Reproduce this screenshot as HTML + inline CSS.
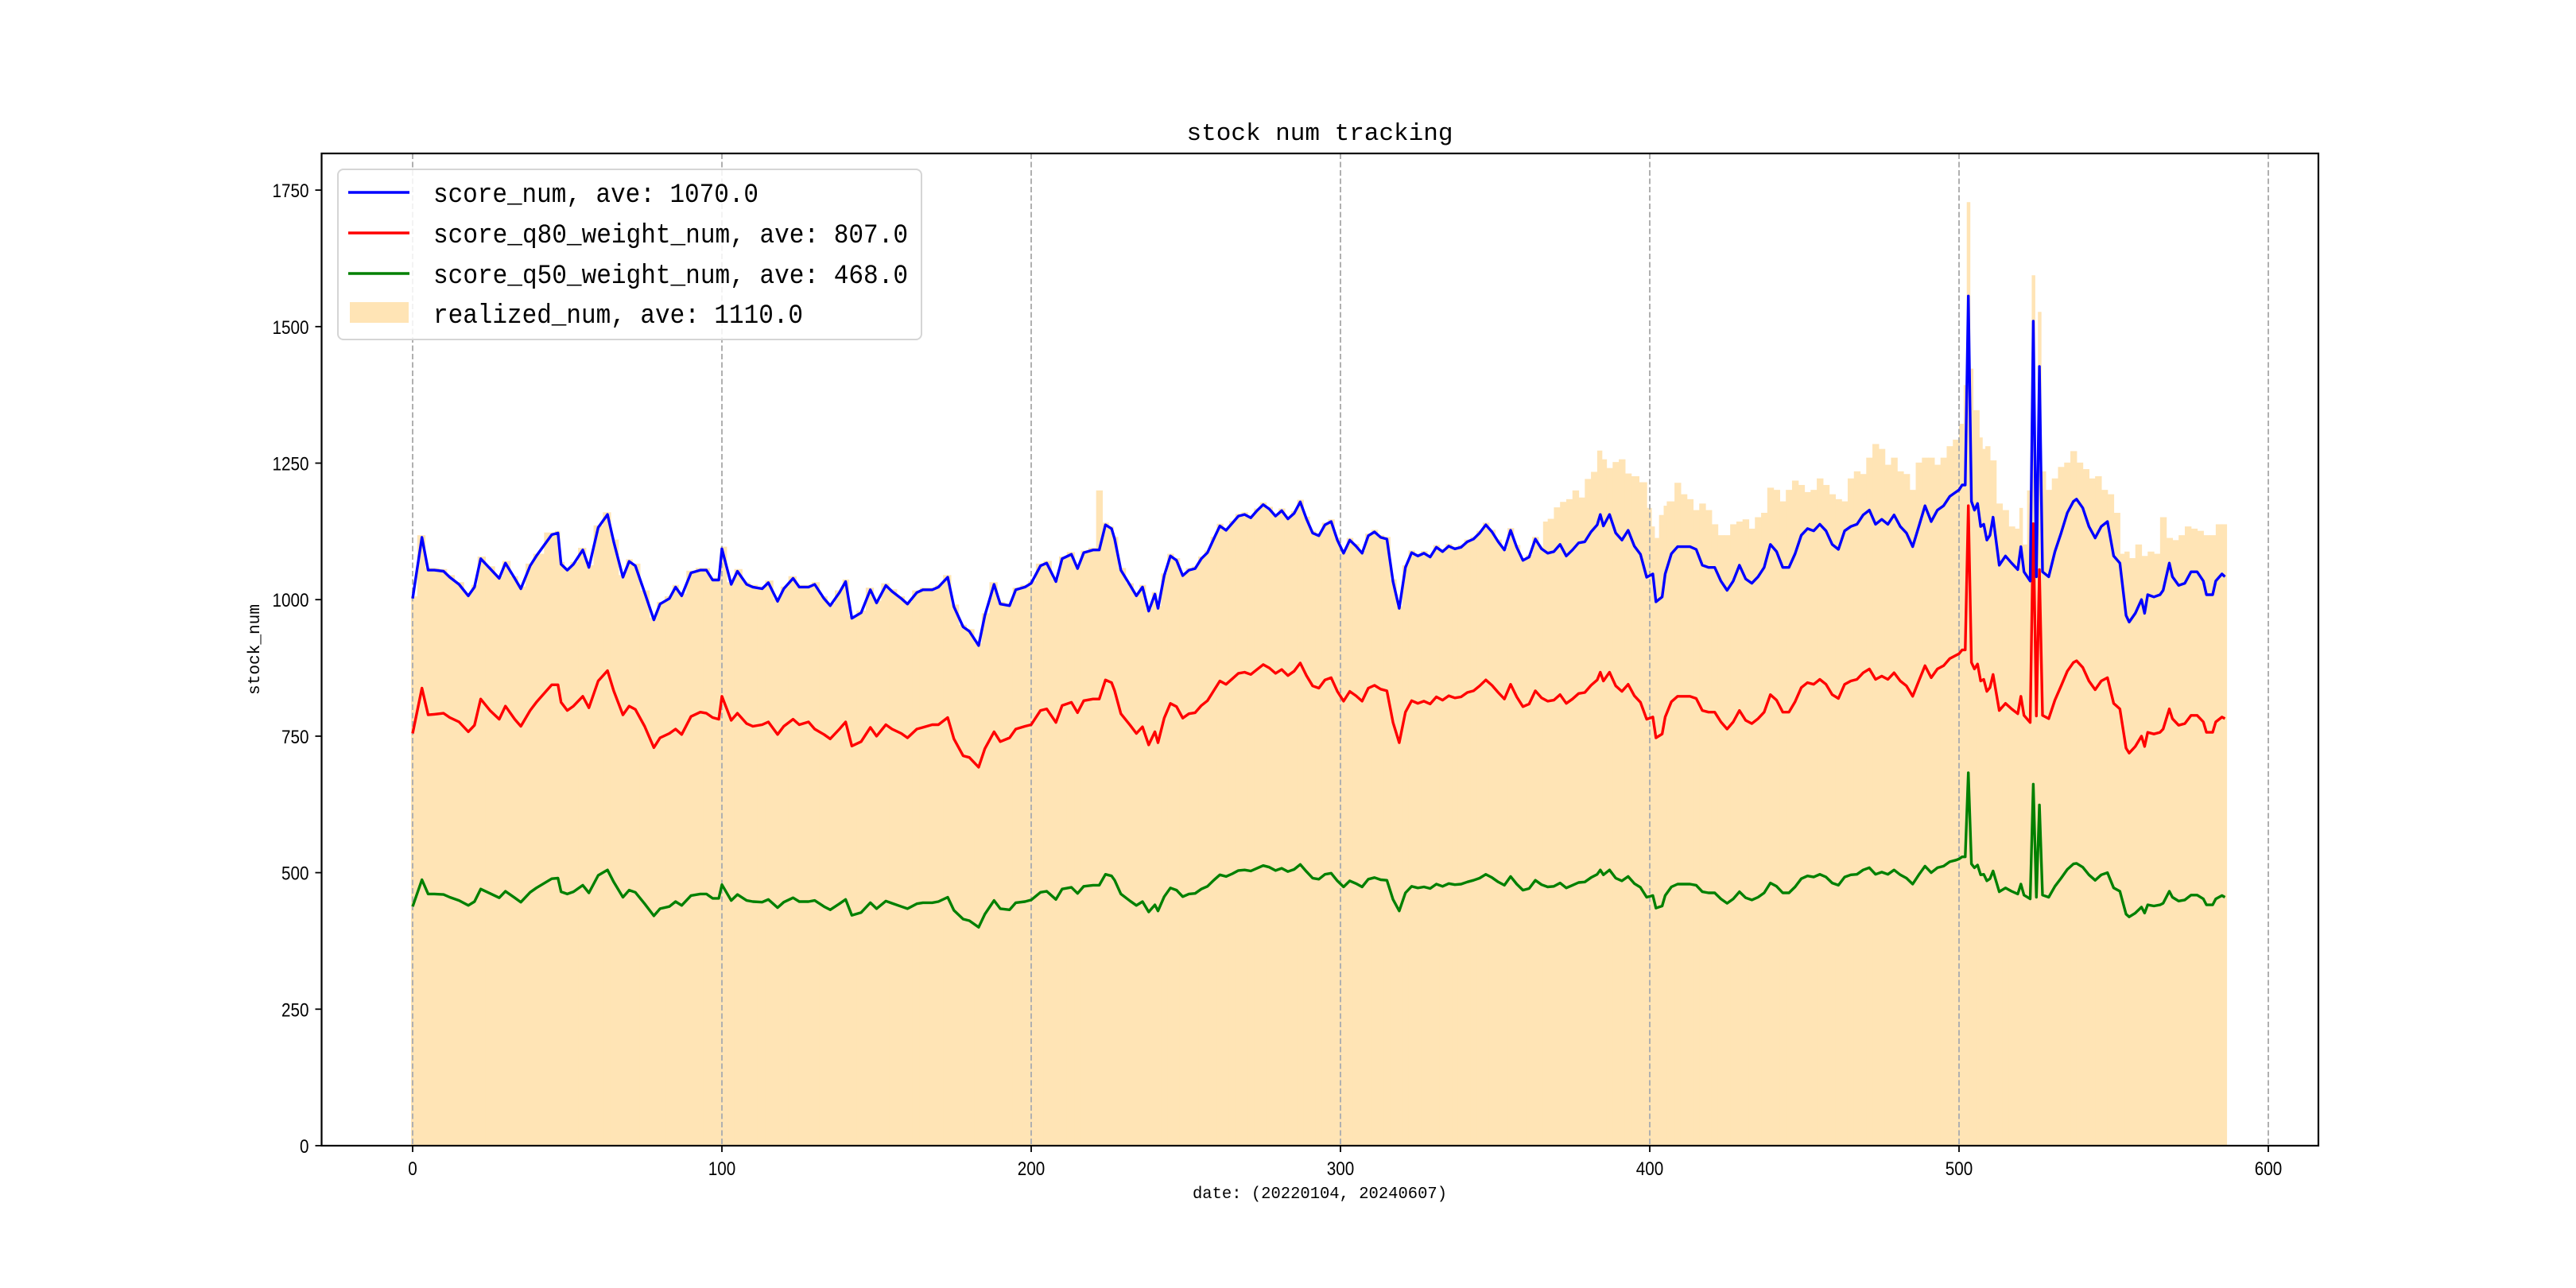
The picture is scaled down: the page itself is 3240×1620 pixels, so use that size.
<!DOCTYPE html>
<html><head><meta charset="utf-8"><style>
html,body{margin:0;padding:0;background:#fff;width:3240px;height:1620px;overflow:hidden}
</style></head><body>
<svg id="chart" width="3240" height="1620" xmlns="http://www.w3.org/2000/svg" style="font-family:'Liberation Sans',sans-serif">
<rect width="3240" height="1620" fill="#fff"/>
<g id="bars"></g>
<g id="grid"></g>
<g id="lines"></g>
<rect x="404.5" y="193" width="2511.5" height="1248" fill="none" stroke="#000" stroke-width="2.2"/>
<g id="ticks"></g>
<text x="1660" y="176" text-anchor="middle" font-family="Liberation Mono, monospace" font-size="31" textLength="335" lengthAdjust="spacingAndGlyphs">stock num tracking</text>
<text x="1660" y="1507" text-anchor="middle" font-family="Liberation Mono, monospace" font-size="21" textLength="320" lengthAdjust="spacingAndGlyphs">date: (20220104, 20240607)</text>
<text transform="translate(326,817) rotate(-90)" text-anchor="middle" font-family="Liberation Mono, monospace" font-size="21" textLength="114" lengthAdjust="spacingAndGlyphs">stock_num</text>
<g>
<rect x="425" y="213" width="734" height="214" rx="7" fill="#fff" fill-opacity="0.85" stroke="#d5d5d5" stroke-width="2"/>
<line x1="438" y1="242" x2="515" y2="242" stroke="#0000ff" stroke-width="3.5"/>
<text x="545" y="254" font-family="Liberation Mono, monospace" font-size="34" textLength="409" lengthAdjust="spacingAndGlyphs">score_num, ave: 1070.0</text>
<line x1="438" y1="293" x2="515" y2="293" stroke="#ff0000" stroke-width="3.5"/>
<text x="545" y="305" font-family="Liberation Mono, monospace" font-size="34" textLength="597" lengthAdjust="spacingAndGlyphs">score_q80_weight_num, ave: 807.0</text>
<line x1="438" y1="344" x2="515" y2="344" stroke="#008000" stroke-width="3.5"/>
<text x="545" y="356" font-family="Liberation Mono, monospace" font-size="34" textLength="597" lengthAdjust="spacingAndGlyphs">score_q50_weight_num, ave: 468.0</text>
<rect x="440" y="380" width="74" height="26" fill="#ffe4b5"/>
<text x="545" y="406" font-family="Liberation Mono, monospace" font-size="34" textLength="465" lengthAdjust="spacingAndGlyphs">realized_num, ave: 1110.0</text>
</g>
</svg>
<script>
const xTicks = [0,100,200,300,400,500,600];
const yTicks = [0,250,500,750,1000,1250,1500,1750];
const lineDays = [0,3,5,7,10,12,15,18,20,22,25,28,30,33,35,38,40,45,47,48,50,52,55,57,60,63,65,68,70,72,75,78,80,83,85,87,90,93,95,97,99,100,103,105,108,110,113,115,118,120,123,125,128,130,133,135,138,140,142,145,148,150,153,155,158,160,163,165,168,170,173,175,178,180,183,185,188,190,193,195,198,200,
203,205,208,210,213,215,217,220,222,224,226,227,229,232,234,236,238,240,241,243,245,247,249,251,253,255,257,259,261,263,265,267,269,271,273,275,277,279,281,283,285,287,289,291,293,295,297,299,301,303,305,307,309,311,313,315,317,319,321,323,325,327,329,331,333,335,337,339,341,343,345,347,349,351,353,355,357,359,361,363,365,367,369,371,373,375,377,379,381,383,384,385,387,389,391,393,395,397,399,
401,402,404,405,407,409,411,413,415,417,419,421,423,425,427,429,431,433,435,437,439,441,443,445,447,449,451,453,455,457,459,461,463,465,467,469,471,473,475,477,479,481,483,485,487,489,491,493,495,497,499,500,501,502,503,504,505,506,507,508,509,510,511,513,515,517,519,520,521,523,524,525,526,527,529,531,533,535,537,538,540,542,544,546,548,550,552,554,555,557,559,560,561,563,565,566,568,569,571,573,575,577,579,580,582,583,585,586];
const scoreNum = [1002,1114,1054,1054,1052,1041,1028,1007,1023,1075,1057,1039,1067,1039,1020,1062,1080,1119,1122,1065,1054,1065,1091,1059,1132,1156,1106,1041,1070,1062,1013,963,992,1002,1023,1007,1049,1054,1054,1036,1036,1093,1028,1052,1028,1023,1020,1031,997,1020,1039,1023,1023,1028,1002,989,1013,1033,966,976,1018,994,1026,1015,1002,992,1013,1018,1018,1023,1041,987,950,942,916,971,1028,992,989,1018,1023,1030,
1062,1067,1033,1075,1083,1057,1086,1091,1091,1137,1130,1111,1054,1026,1007,1023,979,1010,984,1044,1080,1072,1044,1054,1057,1075,1086,1111,1135,1127,1140,1153,1156,1150,1163,1174,1166,1153,1163,1148,1158,1179,1148,1122,1117,1137,1143,1109,1085,1109,1098,1085,1117,1124,1114,1111,1033,984,1059,1086,1080,1085,1078,1096,1088,1098,1093,1096,1106,1111,1122,1137,1124,1106,1091,1127,1096,1072,1078,1111,1093,1085,1088,1101,1080,1091,1104,1106,1124,1137,1156,1135,1156,1122,1109,1127,1098,1083,1041,
1047,996,1005,1047,1084,1097,1097,1097,1092,1063,1059,1059,1034,1017,1034,1063,1038,1030,1042,1059,1101,1088,1059,1059,1084,1118,1130,1126,1138,1126,1101,1092,1126,1134,1138,1155,1164,1138,1147,1138,1155,1134,1122,1097,1134,1172,1143,1164,1172,1189,1197,1201,1210,1210,1556,1180,1164,1176,1134,1138,1109,1118,1151,1063,1080,1067,1055,1097,1051,1034,1510,1042,1427,1051,1042,1088,1122,1159,1180,1184,1168,1134,1113,1134,1143,1080,1067,971,959,975,1000,975,1009,1005,1009,1017,1067,1042,1026,1030,1051,1051,1034,1009,1009,1034,1047,1042];
const q80Num = [755,838,789,790,792,784,776,758,770,818,797,781,805,781,768,797,812,844,844,812,797,805,823,802,851,870,833,789,805,799,768,729,747,755,763,753,786,794,792,784,781,823,779,792,773,768,771,776,753,768,781,771,776,763,753,745,763,776,732,740,766,750,771,763,755,747,763,766,771,771,784,745,714,711,693,727,758,740,747,763,768,771,
797,800,775,806,812,793,815,818,818,853,848,833,791,770,755,767,734,758,738,783,810,804,783,791,793,806,815,833,851,845,855,865,867,863,872,881,875,865,872,861,869,884,861,842,838,853,857,832,814,832,824,814,838,843,836,833,775,738,794,815,810,814,809,822,816,824,820,822,830,833,842,853,843,830,818,845,822,804,809,833,820,814,816,826,810,818,828,830,843,853,867,851,867,842,832,845,824,812,781,
785,747,754,785,813,823,823,823,819,797,794,794,776,763,776,797,779,773,782,794,826,816,794,794,813,839,848,845,854,845,826,819,845,851,854,866,873,854,860,854,866,851,842,823,851,879,857,873,879,892,898,901,908,908,1172,885,873,882,851,854,832,839,863,797,810,800,791,823,788,775,1139,787,1055,788,782,816,842,869,885,888,876,851,835,851,857,810,800,728,719,731,750,731,757,754,757,763,800,782,770,773,788,788,776,757,757,776,785,782];
const q50Num = [438,487,461,461,460,455,449,440,447,470,462,454,466,454,446,464,472,489,490,465,461,465,477,463,495,505,483,455,468,464,443,421,434,438,447,440,458,461,461,453,453,478,449,460,449,447,446,451,436,446,454,447,447,449,438,432,443,451,422,427,445,434,448,444,438,434,443,445,445,447,455,431,415,412,400,424,449,434,432,445,447,450,
464,466,451,470,473,462,475,477,477,497,494,486,461,448,440,447,428,441,430,456,472,468,456,461,462,470,475,486,496,493,498,504,505,503,508,513,510,504,508,502,506,515,502,490,488,497,499,485,474,485,480,474,488,491,487,486,451,430,463,475,472,474,471,479,475,480,478,479,483,486,490,497,491,483,477,493,479,468,471,486,478,474,475,481,472,477,482,483,491,497,505,496,505,490,485,493,480,473,455,
458,435,439,458,474,479,479,479,477,465,463,463,452,444,452,465,454,450,455,463,481,475,463,463,474,489,494,492,497,492,481,477,492,496,497,505,509,497,501,497,505,496,490,479,496,512,500,509,512,520,523,525,529,529,683,516,509,514,496,497,485,489,503,465,472,466,461,479,459,452,662,455,624,459,455,475,490,506,516,517,510,496,486,496,500,472,466,424,419,426,437,426,441,439,441,444,466,455,448,450,459,459,452,441,441,452,458,455];
const realizedDays = [0,3,5,7,10,12,15,18,20,22,25,28,30,33,35,38,40,45,47,48,50,52,55,57,60,63,65,68,70,72,75,78,80,83,85,87,90,93,95,97,99,100,103,105,108,110,113,115,118,120,123,125,128,130,133,135,138,140,142,145,148,150,153,155,158,160,163,165,168,170,173,175,178,180,183,185,188,190,193,195,198,200,
203,205,208,210,213,215,217,220,222,224,226,227,229,232,234,236,238,240,241,243,245,247,249,251,253,255,257,259,261,263,265,267,269,271,273,275,277,279,281,283,285,287,289,291,293,295,297,299,301,303,305,307,309,311,313,315,317,319,321,323,325,327,329,331,333,335,337,339,341,343,345,347,349,351,353,355,357,359,361,363,365,
366,368,370,372,374,376,378,380,382,384,385,387,389,391,393,395,398,
400,401,402,404,405,406,407,409,411,413,415,417,419,421,423,425,427,429,431,433,435,437,439,441,443,445,447,449,451,453,455,457,459,461,463,465,467,469,471,473,475,477,479,481,483,485,487,489,491,493,495,497,499,501,502,503,504,505,506,507,508,509,511,513,515,517,519,520,521,523,524,525,526,527,529,531,533,535,537,539,541,543,545,547,549,551,553,554,556,558,560,562,564,566,568,570,572,574,576,578,580,582,584,586];
const realizedNum = [1006,1118,1058,1058,1056,1045,1032,1011,1027,1079,1061,1043,1071,1043,1024,1066,1084,1123,1126,1069,1058,1069,1095,1063,1136,1160,1110,1045,1074,1066,1017,967,996,1006,1027,1011,1053,1058,1058,1040,1040,1097,1032,1056,1032,1027,1024,1035,1001,1024,1043,1027,1027,1032,1006,993,1017,1037,970,980,1022,998,1030,1019,1006,996,1017,1022,1022,1027,1045,991,954,946,920,975,1032,996,993,1022,1027,1034,
1066,1071,1037,1079,1087,1061,1090,1095,1200,1141,1134,1115,1058,1030,1011,1027,983,1014,988,1048,1084,1076,1048,1058,1061,1079,1090,1115,1139,1131,1144,1157,1160,1154,1167,1178,1170,1157,1167,1152,1162,1183,1152,1126,1121,1141,1147,1113,1089,1113,1102,1089,1121,1128,1118,1115,1037,988,1063,1090,1084,1089,1082,1100,1092,1102,1097,1100,1110,1115,1126,1141,1128,1110,1095,1131,1100,1076,1082,1115,1097,
1143,1148,1169,1179,1184,1200,1187,1221,1234,1273,1257,1241,1252,1257,1231,1226,1215,
1168,1134,1113,1155,1172,1180,1180,1214,1193,1184,1164,1176,1164,1138,1118,1118,1138,1143,1147,1130,1151,1159,1205,1201,1180,1201,1218,1210,1197,1201,1222,1210,1193,1184,1180,1222,1235,1230,1260,1285,1276,1247,1260,1235,1230,1201,1251,1260,1260,1247,1260,1281,1293,1322,1393,1728,1423,1347,1347,1297,1276,1281,1255,1176,1164,1134,1130,1168,1101,1200,1594,1235,1527,1235,1201,1222,1243,1251,1272,1251,1239,1222,1226,1201,1193,1159,1084,1088,1076,1101,1080,1088,1084,1151,1113,1109,1118,1134,1130,1126,1118,1118,1138,1138];

const NS='http://www.w3.org/2000/svg';
const X0=404.5, X1=2916, Y0=193, Y1=1441;
function xs(d){return 519 + d*3.89;}
function ys(v){return 1441 - v*0.6868;}

const barsG=document.getElementById('bars');
for(let i=0;i<realizedDays.length;i++){
  const d=realizedDays[i];
  const left = i===0 ? d-0.5 : (d+realizedDays[i-1])/2;
  const right = i===realizedDays.length-1 ? d+0.5 : (d+realizedDays[i+1])/2;
  const r=document.createElementNS(NS,'rect');
  r.setAttribute('x',xs(left));
  r.setAttribute('width',xs(right)-xs(left)+0.6);
  r.setAttribute('y',ys(realizedNum[i]));
  r.setAttribute('height',ys(0)-ys(realizedNum[i]));
  r.setAttribute('fill','#ffe4b5');
  
  
  barsG.appendChild(r);
}

const gridG=document.getElementById('grid');
const ticksG=document.getElementById('ticks');
xTicks.forEach(t=>{
  const x=xs(t);
  const g=document.createElementNS(NS,'line');
  g.setAttribute('x1',x);g.setAttribute('x2',x);g.setAttribute('y1',Y0);g.setAttribute('y2',Y1);
  g.setAttribute('stroke','#b0b0b0');g.setAttribute('stroke-width','2');g.setAttribute('stroke-dasharray','7,3.5');
  
  
  gridG.appendChild(g);
  const tk=document.createElementNS(NS,'line');
  tk.setAttribute('x1',x);tk.setAttribute('x2',x);tk.setAttribute('y1',Y1);tk.setAttribute('y2',Y1+8);
  tk.setAttribute('stroke','#000');tk.setAttribute('stroke-width','1.8');
  
  
  ticksG.appendChild(tk);
  const lb=document.createElementNS(NS,'text');
  lb.setAttribute('x',x);lb.setAttribute('y',Y1+37);lb.setAttribute('text-anchor','middle');
  lb.setAttribute('font-size','24');
  lb.setAttribute('textLength',String(t).length*11.5);lb.setAttribute('lengthAdjust','spacingAndGlyphs');
  lb.textContent=t;
  
  
  ticksG.appendChild(lb);
});
yTicks.forEach(t=>{
  const y=ys(t);
  const tk=document.createElementNS(NS,'line');
  tk.setAttribute('x1',X0-8);tk.setAttribute('x2',X0);tk.setAttribute('y1',y);tk.setAttribute('y2',y);
  tk.setAttribute('stroke','#000');tk.setAttribute('stroke-width','1.8');
  
  
  ticksG.appendChild(tk);
  const lb=document.createElementNS(NS,'text');
  lb.setAttribute('x',X0-16);lb.setAttribute('y',y+9);lb.setAttribute('text-anchor','end');
  lb.setAttribute('font-size','24');
  lb.setAttribute('textLength',String(t).length*11.5);lb.setAttribute('lengthAdjust','spacingAndGlyphs');
  lb.textContent=t;
  
  
  ticksG.appendChild(lb);
});

const linesG=document.getElementById('lines');
function drawLine(vals,color,name){
  const p=document.createElementNS(NS,'path');
  let dstr='';
  for(let i=0;i<lineDays.length;i++){dstr+=(i?'L':'M')+xs(lineDays[i]).toFixed(1)+','+ys(vals[i]).toFixed(1);}
  p.setAttribute('d',dstr);p.setAttribute('fill','none');p.setAttribute('stroke',color);
  p.setAttribute('stroke-width','3.4');p.setAttribute('stroke-linejoin','round');
  
  
  linesG.appendChild(p);
}
drawLine(q50Num,'#008000','score-q50-weight-num-line');
drawLine(q80Num,'#ff0000','score-q80-weight-num-line');
drawLine(scoreNum,'#0000ff','score-num-line');
</script>
</body></html>
